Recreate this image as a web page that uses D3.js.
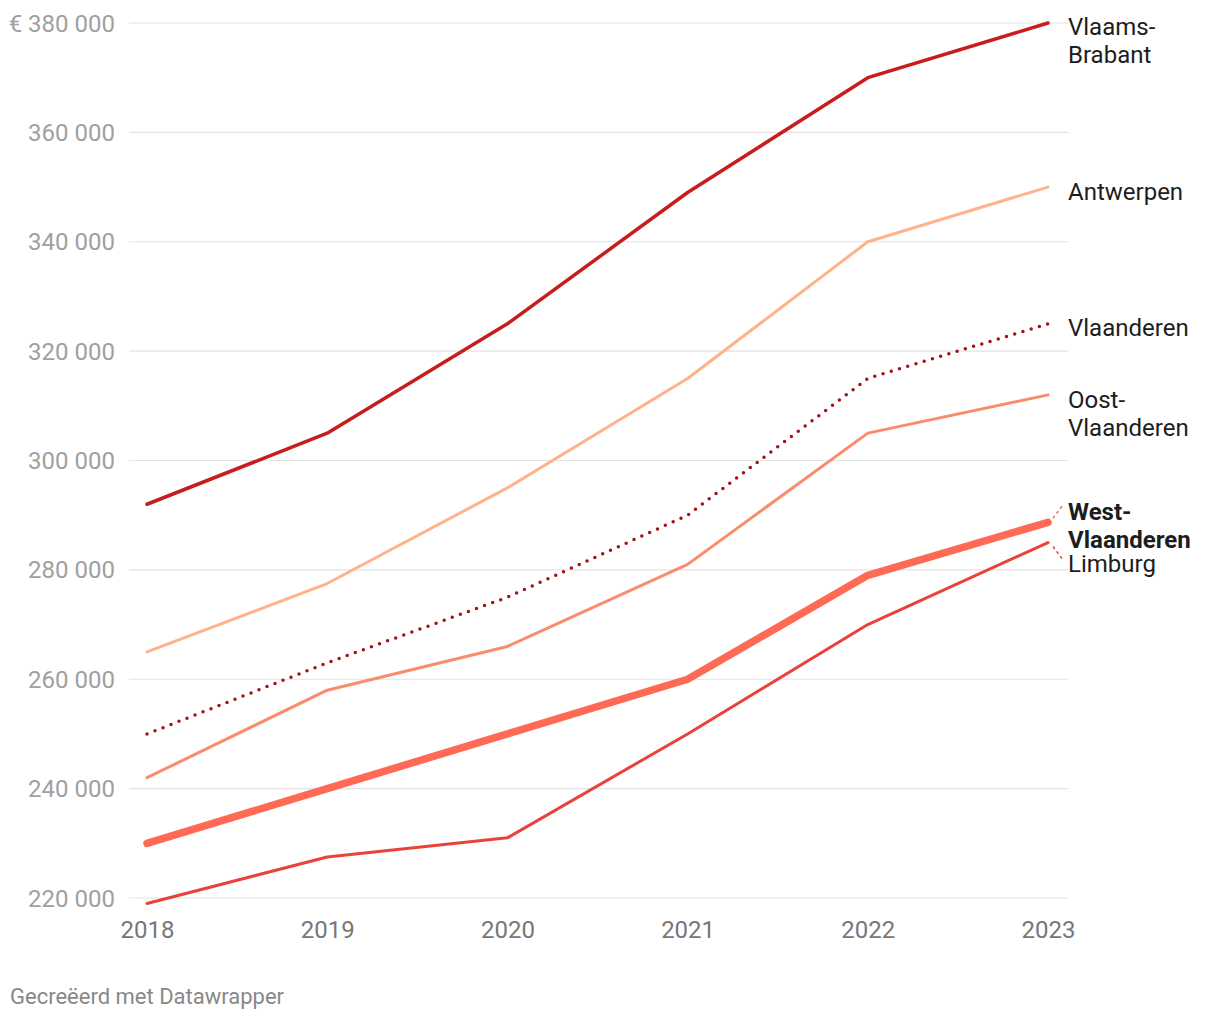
<!DOCTYPE html>
<html>
<head>
<meta charset="utf-8">
<script src="https://cdn.jsdelivr.net/npm/d3@7"></script>
<style>
  html, body { margin: 0; padding: 0; background: #fff; }
  svg { display: block; font-family: Roboto, "Noto Sans", sans-serif; }
</style>
</head>
<body>
<svg id="chart" width="1220" height="1020"></svg>
<script>
const years = [2018, 2019, 2020, 2021, 2022, 2023];
const yTicks = [220000, 240000, 260000, 280000, 300000, 320000, 340000, 360000, 380000];

const vlaamsBrabant   = [292000, 305000, 325000, 349000, 370000, 380000];
const antwerpen       = [265000, 277500, 295000, 315000, 340000, 350000];
const vlaanderen      = [250000, 263000, 275000, 290000, 315000, 325000];
const oostVlaanderen  = [242000, 258000, 266000, 281000, 305000, 312000];
const westVlaanderen  = [230000, 240000, 250000, 260000, 279000, 288700];
const limburg         = [219000, 227500, 231000, 250000, 270000, 285000];

const seriesNames = ["Vlaams-Brabant", "Antwerpen", "Vlaanderen", "Oost-Vlaanderen", "West-Vlaanderen", "Limburg"];
const seriesValues = [vlaamsBrabant, antwerpen, vlaanderen, oostVlaanderen, westVlaanderen, limburg];

const styles = {
  "Vlaams-Brabant":  { color: "#c71e1d", width: 3.5 },
  "Antwerpen":       { color: "#ffb38a", width: 3 },
  "Vlaanderen":      { color: "#a50f15", width: 3.5, dotted: true },
  "Oost-Vlaanderen": { color: "#fa8c6c", width: 3 },
  "West-Vlaanderen": { color: "#ff6a55", width: 7.5 },
  "Limburg":         { color: "#e8423a", width: 3 }
};

const labels = [
  { name: "Vlaams-Brabant", lines: ["Vlaams-", "Brabant"], y: 27, bold: false },
  { name: "Antwerpen", lines: ["Antwerpen"], y: 192, bold: false },
  { name: "Vlaanderen", lines: ["Vlaanderen"], y: 328, bold: false },
  { name: "Oost-Vlaanderen", lines: ["Oost-", "Vlaanderen"], y: 400, bold: false },
  { name: "West-Vlaanderen", lines: ["West-", "Vlaanderen"], y: 512, bold: true },
  { name: "Limburg", lines: ["Limburg"], y: 564, bold: false }
];

const svg = d3.select("#chart");
const x = d3.scalePoint().domain(years).range([147, 1048]);
const y = d3.scaleLinear().domain([220000, 380000]).range([898, 23]);

const fmt = v => d3.format(",")(v).replace(/,/g, " ");

// gridlines
const grid = svg.append("g");
grid.selectAll("line").data(yTicks).join("line")
  .attr("x1", 129).attr("x2", 1068)
  .attr("y1", d => y(d)).attr("y2", d => y(d))
  .attr("stroke", "#e3e3e3").attr("stroke-width", 1.2);

// y axis labels
const yAxis = d3.axisLeft(y).tickValues(yTicks).tickSize(0).tickPadding(0)
  .tickFormat(d => (d === 380000 ? "€ " : "") + fmt(d));
const yg = svg.append("g").attr("transform", "translate(115,0)").call(yAxis);
yg.select(".domain").remove();
yg.selectAll("text").attr("font-size", 24).attr("fill", "#a0a0a0")
  .attr("font-family", "Roboto, sans-serif").attr("dy", null)
  .attr("dominant-baseline", "central");

// x axis labels
const xAxis = d3.axisBottom(x).tickSize(0).tickPadding(0).tickFormat(d => String(d));
const xg = svg.append("g").attr("transform", "translate(0,930)").call(xAxis);
xg.select(".domain").remove();
xg.selectAll("text").attr("font-size", 24).attr("fill", "#777")
  .attr("font-family", "Roboto, sans-serif").attr("dy", null).attr("y", 0)
  .attr("dominant-baseline", "central");

// lines
const line = d3.line().x((d, i) => x(years[i])).y(d => y(d));
const drawOrder = ["Antwerpen", "Oost-Vlaanderen", "Limburg", "Vlaanderen", "Vlaams-Brabant", "West-Vlaanderen"];
drawOrder.forEach(name => {
  const vals = seriesValues[seriesNames.indexOf(name)];
  const s = styles[name];
  const p = svg.append("path").datum(vals)
    .attr("d", line).attr("fill", "none")
    .attr("stroke", s.color).attr("stroke-width", s.width)
    .attr("stroke-linejoin", "round").attr("stroke-linecap", "round");
  if (s.dotted) p.attr("stroke-dasharray", "0,8.6");
});

// connectors for West-Vlaanderen and Limburg
const endX = x(2023);
const wv = y(westVlaanderen[5]);
const lb = y(limburg[5]);
svg.append("path")
  .attr("d", `M${endX + 5},${wv - 4} L${endX + 14},${wv - 16}`)
  .attr("stroke", styles["West-Vlaanderen"].color).attr("stroke-width", 1.5)
  .attr("stroke-dasharray", "3,3").attr("fill", "none");
svg.append("path")
  .attr("d", `M${endX + 5},${lb + 4} L${endX + 14},${lb + 16}`)
  .attr("stroke", styles["Limburg"].color).attr("stroke-width", 1.5)
  .attr("stroke-dasharray", "3,3").attr("fill", "none");

// labels
labels.forEach(l => {
  const t = svg.append("text")
    .attr("x", 1068).attr("y", l.y)
    .attr("font-size", 24).attr("fill", "#1d1d1d")
    .attr("font-weight", l.bold ? 700 : 400)
    .attr("dominant-baseline", "central");
  l.lines.forEach((ln, i) => {
    t.append("tspan").attr("x", 1068).attr("dy", i === 0 ? 0 : 28).text(ln);
  });
});

// footer
svg.append("text").attr("x", 10).attr("y", 1004)
  .attr("font-size", 22).attr("fill", "#888").text("Gecreëerd met Datawrapper");
</script>
</body>
</html>
